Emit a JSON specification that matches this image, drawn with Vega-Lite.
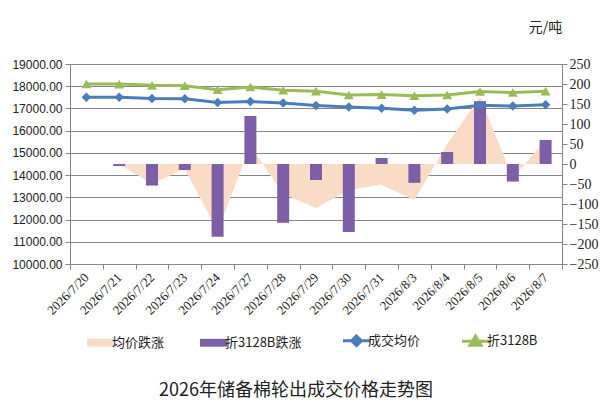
{
  "$schema": "https://vega.github.io/schema/vega-lite/v6.json",
  "autosize": {"type": "none"},
  "width": 492,
  "height": 200,
  "padding": {"left": 70, "top": 64, "right": 45, "bottom": 144},
  "background": "white",
  "title": {
    "text": "2026年储备棉轮出成交价格走势图",
    "orient": "bottom",
    "anchor": "middle",
    "frame": "group",
    "dx": -20,
    "offset": 30,
    "font": "Noto Sans CJK SC",
    "fontSize": 18,
    "fontWeight": "normal",
    "color": "#222"
  },
  "data": {
    "values": [
      {"date": "2026/7/20", "avg": 17500, "b3128": 18100, "avg_chg": 0, "b_chg": 0},
      {"date": "2026/7/21", "avg": 17500, "b3128": 18095, "avg_chg": 0, "b_chg": -5},
      {"date": "2026/7/22", "avg": 17450, "b3128": 18041, "avg_chg": -50, "b_chg": -54},
      {"date": "2026/7/23", "avg": 17438, "b3128": 18026, "avg_chg": -12, "b_chg": -15},
      {"date": "2026/7/24", "avg": 17270, "b3128": 17844, "avg_chg": -168, "b_chg": -182},
      {"date": "2026/7/27", "avg": 17315, "b3128": 17964, "avg_chg": 45, "b_chg": 120},
      {"date": "2026/7/28", "avg": 17240, "b3128": 17817, "avg_chg": -75, "b_chg": -147},
      {"date": "2026/7/29", "avg": 17130, "b3128": 17777, "avg_chg": -110, "b_chg": -40},
      {"date": "2026/7/30", "avg": 17065, "b3128": 17607, "avg_chg": -65, "b_chg": -170},
      {"date": "2026/7/31", "avg": 17013, "b3128": 17622, "avg_chg": -52, "b_chg": 15},
      {"date": "2026/8/3", "avg": 16923, "b3128": 17575, "avg_chg": -90, "b_chg": -47},
      {"date": "2026/8/4", "avg": 16973, "b3128": 17605, "avg_chg": 50, "b_chg": 30},
      {"date": "2026/8/5", "avg": 17141, "b3128": 17762, "avg_chg": 168, "b_chg": 157},
      {"date": "2026/8/6", "avg": 17106, "b3128": 17718, "avg_chg": -35, "b_chg": -44},
      {"date": "2026/8/7", "avg": 17166, "b3128": 17778, "avg_chg": 60, "b_chg": 60}
    ]
  },
  "encoding": {
    "x": {
      "field": "date",
      "type": "ordinal",
      "sort": null,
      "scale": {"paddingInner": 0, "paddingOuter": 0},
      "axis": {
        "title": null,
        "labelAngle": -45,
        "labelAlign": "right",
        "labelBaseline": "middle",
        "labelPadding": 6,
        "labelFont": "Liberation Serif",
        "labelFontSize": 13,
        "labelColor": "#222",
        "tickBand": "extent",
        "tickSize": 5,
        "tickColor": "#868686",
        "domainColor": "#868686",
        "grid": false
      }
    }
  },
  "layer": [
    {
      "layer": [
        {
          "mark": {"type": "area", "opacity": 1},
          "encoding": {
            "y": {
              "field": "avg_chg",
              "type": "quantitative",
              "scale": {"domain": [-250, 250]},
              "axis": {
                "orient": "right",
                "title": "元/吨",
                "titleAngle": 0,
                "titleX": -17,
                "titleY": -37,
                "titleAlign": "center",
                "titleBaseline": "middle",
                "titleFont": "Noto Sans CJK SC",
                "titleFontSize": 14,
                "titleFontWeight": "normal",
                "titleColor": "#222",
                "values": [-250, -200, -150, -100, -50, 0, 50, 100, 150, 200, 250],
                "labelFont": "Liberation Serif",
                "labelFontSize": 14,
                "labelColor": "#222",
                "labelPadding": 2,
                "tickSize": 5,
                "tickColor": "#868686",
                "domainColor": "#868686",
                "grid": false
              }
            },
            "color": {
              "datum": "均价跌涨",
              "type": "nominal",
              "scale": {
                "domain": ["均价跌涨", "折3128B跌涨", "成交均价", "折3128B"],
                "range": ["#fadcc6", "#7c5fa6", "#4a7ebb", "#9bbb59"]
              },
              "legend": {
                "orient": "none",
                "legendX": 24,
                "legendY": 270,
                "direction": "horizontal",
                "title": null,
                "symbolSize": 729,
                "labelFont": "Noto Sans CJK SC",
                "labelFontSize": 13,
                "labelColor": "#222",
                "labelOffset": 5,
                "columnPadding": 35,
                "encode": {
                  "symbols": {
                    "update": {
                      "shape": {"signal": "datum.value === '成交均价' ? 'M-1,0H1M0,-0.36L0.36,0L0,0.36L-0.36,0Z' : datum.value === '折3128B' ? 'M-1,0H1M0,-0.4L0.4,0.28L-0.4,0.28Z' : 'M-1,-0.29H1V0.29H-1Z'"},
                      "fill": {"scale": "color", "field": "value"},
                      "stroke": {"scale": "color", "field": "value"},
                      "strokeWidth": {"signal": "datum.value === '成交均价' || datum.value === '折3128B' ? 3 : 0"},
                      "opacity": {"value": 1}
                    }
                  }
                }
              }
            }
          }
        },
        {
          "mark": {"type": "bar", "size": 12},
          "encoding": {
            "y": {
              "field": "b_chg",
              "type": "quantitative",
              "scale": {"domain": [-250, 250]},
              "axis": {
                "orient": "right",
                "title": "元/吨",
                "titleAngle": 0,
                "titleX": -17,
                "titleY": -37,
                "titleAlign": "center",
                "titleBaseline": "middle",
                "titleFont": "Noto Sans CJK SC",
                "titleFontSize": 14,
                "titleFontWeight": "normal",
                "titleColor": "#222",
                "values": [-250, -200, -150, -100, -50, 0, 50, 100, 150, 200, 250],
                "labelFont": "Liberation Serif",
                "labelFontSize": 14,
                "labelColor": "#222",
                "labelPadding": 2,
                "tickSize": 5,
                "tickColor": "#868686",
                "domainColor": "#868686",
                "grid": false
              }
            },
            "color": {
              "datum": "折3128B跌涨",
              "type": "nominal",
              "scale": {
                "domain": ["均价跌涨", "折3128B跌涨", "成交均价", "折3128B"],
                "range": ["#fadcc6", "#7c5fa6", "#4a7ebb", "#9bbb59"]
              },
              "legend": {
                "orient": "none",
                "legendX": 24,
                "legendY": 270,
                "direction": "horizontal",
                "title": null,
                "symbolSize": 729,
                "labelFont": "Noto Sans CJK SC",
                "labelFontSize": 13,
                "labelColor": "#222",
                "labelOffset": 5,
                "columnPadding": 35,
                "encode": {
                  "symbols": {
                    "update": {
                      "shape": {"signal": "datum.value === '成交均价' ? 'M-1,0H1M0,-0.36L0.36,0L0,0.36L-0.36,0Z' : datum.value === '折3128B' ? 'M-1,0H1M0,-0.4L0.4,0.28L-0.4,0.28Z' : 'M-1,-0.29H1V0.29H-1Z'"},
                      "fill": {"scale": "color", "field": "value"},
                      "stroke": {"scale": "color", "field": "value"},
                      "strokeWidth": {"signal": "datum.value === '成交均价' || datum.value === '折3128B' ? 3 : 0"},
                      "opacity": {"value": 1}
                    }
                  }
                }
              }
            }
          }
        }
      ]
    },
    {
      "layer": [
        {
          "mark": {"type": "line", "strokeWidth": 3, "point": {"shape": "diamond", "size": 90, "filled": true}},
          "encoding": {
            "y": {
              "field": "avg",
              "type": "quantitative",
              "scale": {"domain": [10000, 19000]},
              "axis": {
                "orient": "left",
                "title": null,
                "values": [10000, 11000, 12000, 13000, 14000, 15000, 16000, 17000, 18000, 19000],
                "format": ".2f",
                "labelFont": "Liberation Sans",
                "labelFontSize": 12,
                "labelColor": "#222",
                "labelPadding": 3,
                "tickSize": 5,
                "tickColor": "#868686",
                "domainColor": "#868686",
                "grid": true,
                "gridColor": "#868686",
                "gridOpacity": 1
              }
            },
            "color": {
              "datum": "成交均价",
              "type": "nominal",
              "scale": {
                "domain": ["均价跌涨", "折3128B跌涨", "成交均价", "折3128B"],
                "range": ["#fadcc6", "#7c5fa6", "#4a7ebb", "#9bbb59"]
              },
              "legend": {
                "orient": "none",
                "legendX": 24,
                "legendY": 270,
                "direction": "horizontal",
                "title": null,
                "symbolSize": 729,
                "labelFont": "Noto Sans CJK SC",
                "labelFontSize": 13,
                "labelColor": "#222",
                "labelOffset": 5,
                "columnPadding": 35,
                "encode": {
                  "symbols": {
                    "update": {
                      "shape": {"signal": "datum.value === '成交均价' ? 'M-1,0H1M0,-0.36L0.36,0L0,0.36L-0.36,0Z' : datum.value === '折3128B' ? 'M-1,0H1M0,-0.4L0.4,0.28L-0.4,0.28Z' : 'M-1,-0.29H1V0.29H-1Z'"},
                      "fill": {"scale": "color", "field": "value"},
                      "stroke": {"scale": "color", "field": "value"},
                      "strokeWidth": {"signal": "datum.value === '成交均价' || datum.value === '折3128B' ? 3 : 0"},
                      "opacity": {"value": 1}
                    }
                  }
                }
              }
            }
          }
        },
        {
          "mark": {"type": "line", "strokeWidth": 3, "point": {"shape": "triangle-up", "size": 100, "filled": true}},
          "encoding": {
            "y": {
              "field": "b3128",
              "type": "quantitative",
              "scale": {"domain": [10000, 19000]},
              "axis": {
                "orient": "left",
                "title": null,
                "values": [10000, 11000, 12000, 13000, 14000, 15000, 16000, 17000, 18000, 19000],
                "format": ".2f",
                "labelFont": "Liberation Sans",
                "labelFontSize": 12,
                "labelColor": "#222",
                "labelPadding": 3,
                "tickSize": 5,
                "tickColor": "#868686",
                "domainColor": "#868686",
                "grid": true,
                "gridColor": "#868686",
                "gridOpacity": 1
              }
            },
            "color": {
              "datum": "折3128B",
              "type": "nominal",
              "scale": {
                "domain": ["均价跌涨", "折3128B跌涨", "成交均价", "折3128B"],
                "range": ["#fadcc6", "#7c5fa6", "#4a7ebb", "#9bbb59"]
              },
              "legend": {
                "orient": "none",
                "legendX": 24,
                "legendY": 270,
                "direction": "horizontal",
                "title": null,
                "symbolSize": 729,
                "labelFont": "Noto Sans CJK SC",
                "labelFontSize": 13,
                "labelColor": "#222",
                "labelOffset": 5,
                "columnPadding": 35,
                "encode": {
                  "symbols": {
                    "update": {
                      "shape": {"signal": "datum.value === '成交均价' ? 'M-1,0H1M0,-0.36L0.36,0L0,0.36L-0.36,0Z' : datum.value === '折3128B' ? 'M-1,0H1M0,-0.4L0.4,0.28L-0.4,0.28Z' : 'M-1,-0.29H1V0.29H-1Z'"},
                      "fill": {"scale": "color", "field": "value"},
                      "stroke": {"scale": "color", "field": "value"},
                      "strokeWidth": {"signal": "datum.value === '成交均价' || datum.value === '折3128B' ? 3 : 0"},
                      "opacity": {"value": 1}
                    }
                  }
                }
              }
            }
          }
        }
      ]
    }
  ],
  "resolve": {"scale": {"y": "independent"}},
  "config": {"view": {"stroke": null}}
}
